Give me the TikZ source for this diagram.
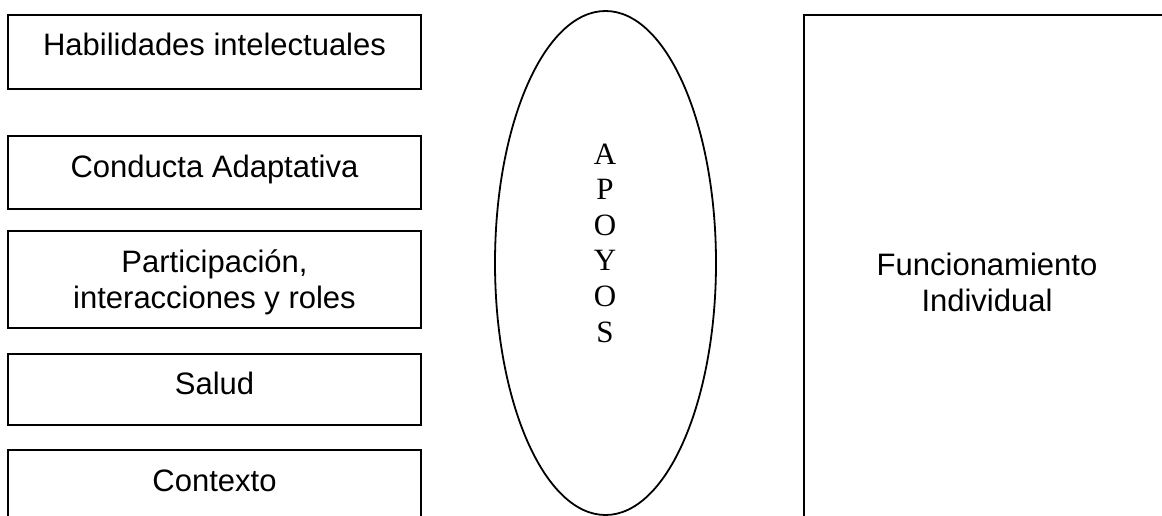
\documentclass[tikz,border=0pt]{standalone}
\usepackage{fontspec}
\setmainfont{Liberation Sans}
\newfontfamily\romana{Liberation Serif}
\usetikzlibrary{shapes.geometric}
\tikzset{
	caja/.style={draw, black, line width=2pt, minimum width=413pt, inner sep=0pt, text height=41pt, anchor=north, align=center, font=\fontsize{31}{35.6}\selectfont},
	letras/.style={inner sep=0pt, anchor=base, align=center, font=\romana\fontsize{31}{35.6}\selectfont}
}
\begin{document}
\begin{tikzpicture}[x=1pt, y=-1pt]
\useasboundingbox (0,0) rectangle (1162,516);
\clip (0,0) rectangle (1162,516);
\foreach \nom/\arriba/\alto/\prof/\texto in {hab/14/41pt/33pt/{Habilidades intelectuales}, con/135/41pt/32pt/{Conducta Adaptativa}, par/230/77pt/20pt/{Participación,\\interacciones y roles}, sal/353/40pt/31pt/{Salud}, ctx/449/41pt/33pt/{Contexto}}{
	\node[caja, text height=\alto, text depth=\prof](\nom) at (214.5,\arriba){\texto};
}
\node[draw, ellipse, line width=1.8pt, minimum width=221pt, minimum height=504pt, inner sep=0pt](apoyos) at (605.5,263){};
\node[letras](sop) at (605,342){A\\P\\O\\Y\\O\\S};
\node[caja, minimum width=366pt, text height=296pt, text depth=230pt](fun) at (987,14){Funcionamiento\\Individual};
\end{tikzpicture}
\end{document}
